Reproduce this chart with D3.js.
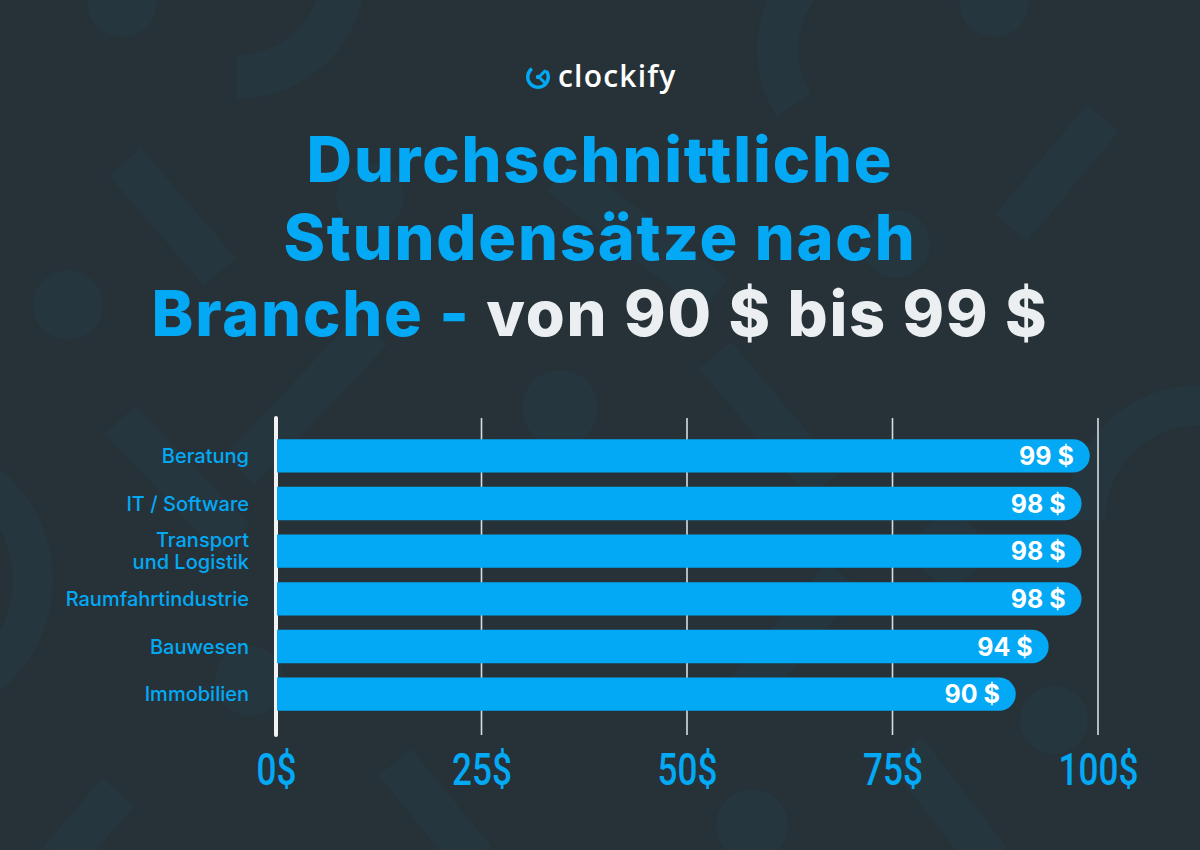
<!DOCTYPE html>
<html>
<head>
<meta charset="utf-8">
<script src="https://cdn.jsdelivr.net/npm/d3@7"></script>
<style>
  html, body { margin: 0; padding: 0; background: #273238; }
  svg { display: block; }
</style>
</head>
<body>
<svg id="chart"></svg>
<script>
// Data
const categories = ["Beratung", "IT / Software", "Transport\nund Logistik", "Raumfahrtindustrie", "Bauwesen", "Immobilien"];
const rates = [99, 98, 98, 98, 94, 90];
const tickValues = [0, 25, 50, 75, 100];
const titleLines = ["Durchschnittliche", "Stundensätze nach"];
const titleLast = ["Branche - ", "von 90 $ bis 99 $"];

const svgWidth = 1200, svgHeight = 850;
const blue = "#03a9f4";
const shapeFill = "#25363f";

const svg = d3.select("#chart")
    .attr("width", svgWidth)
    .attr("height", svgHeight);

svg.append("rect").attr("width", svgWidth).attr("height", svgHeight).attr("fill", "#273238");

// background decoration (circles, flat-ended bars, ring segments)
const deco = svg.append("g");
[[122, 2, 35], [994, 2, 35], [68, 305, 35], [370, 197, 34], [896, 244, 34], [560, 408, 38],
 [250, 681, 35], [1054, 720, 34], [752, 825, 36], [950, 550, 33]]
    .forEach(c => deco.append("circle").attr("cx", c[0]).attr("cy", c[1]).attr("r", c[2]).attr("fill", shapeFill));
[[125, 162, 220, 272], [1103, 118, 1011, 228], [372, 330, 240, 470], [120, 420, 235, 540],
 [715, 355, 825, 485], [843, 575, 740, 700], [60, 860, 118, 792], [395, 762, 475, 860],
 [905, 750, 990, 860], [560, 175, 715, 295]]
    .forEach(l => deco.append("line").attr("x1", l[0]).attr("y1", l[1]).attr("x2", l[2]).attr("y2", l[3])
        .attr("stroke", shapeFill).attr("stroke-width", 42).attr("stroke-linecap", "butt"));
const arc = d3.arc();
[[237, -30, 85, 129, 0.5, 1.0], [880, 50, 82, 123, 1.32, 1.9], [-90, 580, 103, 143, 0.2, 0.85], [1200, 520, 95, 135, 1.5, 2.0]]
    .forEach(a => deco.append("path").attr("transform", `translate(${a[0]},${a[1]})`)
        .attr("d", arc({innerRadius: a[2], outerRadius: a[3], startAngle: Math.PI * a[4], endAngle: Math.PI * a[5]}))
        .attr("fill", shapeFill));

// logo
const logo = svg.append("g").attr("transform", "translate(538,77)");
logo.append("path")
    .attr("d", d3.arc()({innerRadius: 8.6, outerRadius: 12, startAngle: Math.PI * 0.3, endAngle: Math.PI * 1.8}))
    .attr("fill", blue);
logo.append("path").attr("d", "M2.5,-1.5 L7,-6 M2.5,1.5 L7,6").attr("stroke", blue).attr("stroke-width", 3).attr("stroke-linecap", "round");
logo.append("circle").attr("cx", 0).attr("cy", 0).attr("r", 2.2).attr("fill", blue);
svg.append("text").attr("x", 558).attr("y", 87)
    .attr("font-family", "'Open Sans', sans-serif").attr("font-weight", 600).attr("font-size", 30)
    .attr("letter-spacing", 1.2)
    .attr("fill", "#ffffff").text("clockify");

// title
const titleFont = "Inter, 'Noto Sans', sans-serif";
titleLines.forEach((t, i) => {
    svg.append("text").attr("x", 600).attr("y", 182 + i * 78)
        .attr("text-anchor", "middle")
        .attr("font-family", titleFont).attr("font-weight", 800).attr("font-size", 63)
        .attr("letter-spacing", 1.8)
        .attr("fill", blue).text(t);
});
const last = svg.append("text").attr("x", 600).attr("y", 336)
    .attr("text-anchor", "middle")
    .attr("font-family", titleFont).attr("font-weight", 800).attr("font-size", 63)
    .attr("letter-spacing", 1.8)
    .attr("xml:space", "preserve");
last.append("tspan").attr("fill", blue).text(titleLast[0]);
last.append("tspan").attr("fill", "#eceff1").text(titleLast[1]);

// chart
const xScale = d3.scaleLinear().domain([0, 100]).range([276, 1098]);
const yScale = d3.scaleBand().domain(categories).range([432, 718]).paddingInner(0.3).paddingOuter(0.15);

// grid lines
svg.append("g").selectAll("line").data(tickValues).join("line")
    .attr("x1", d => xScale(d)).attr("x2", d => xScale(d))
    .attr("y1", 418).attr("y2", 735)
    .attr("stroke", d => d === 0 ? "#f2f2f2" : "#d8dcdf")
    .attr("stroke-width", d => d === 0 ? 4 : 1.6)
    .attr("stroke-linecap", d => d === 0 ? "round" : "butt");

// bars with rounded right end
const bh = yScale.bandwidth();
svg.append("g").selectAll("path").data(categories).join("path")
    .attr("d", (c, i) => {
        const x0 = xScale(0) + 1, x1 = xScale(rates[i]), y0 = yScale(c), r = bh / 2;
        return `M${x0},${y0} H${x1 - r} A${r},${r} 0 0 1 ${x1 - r},${y0 + bh} H${x0} Z`;
    })
    .attr("fill", blue);

// value labels
svg.append("g").selectAll("text").data(categories).join("text")
    .attr("x", (c, i) => xScale(rates[i]) - 16)
    .attr("y", c => yScale(c) + bh / 2 + 9)
    .attr("text-anchor", "end")
    .attr("font-family", titleFont).attr("font-weight", 700).attr("font-size", 25)
    .attr("fill", "#ffffff")
    .text((c, i) => `${rates[i]} $`);

// category labels
const catLabels = svg.append("g").selectAll("text").data(categories).join("text")
    .attr("text-anchor", "end")
    .attr("font-family", titleFont).attr("font-weight", 500).attr("font-size", 20)
    .attr("fill", blue);
catLabels.each(function(c) {
    const lines = c.split("\n");
    const cy = yScale(c) + bh / 2;
    lines.forEach((l, j) => {
        d3.select(this).append("tspan")
            .attr("x", 249)
            .attr("y", cy + 7 + (j - (lines.length - 1) / 2) * 22)
            .text(l);
    });
});

// x axis tick labels
const xAxis = svg.append("g")
    .attr("transform", "translate(0,785)")
    .call(d3.axisBottom(xScale).tickValues(tickValues).tickSize(0).tickFormat(d => d + "$"));
xAxis.select(".domain").remove();
xAxis.selectAll("text")
    .attr("y", 0).attr("dy", 0)
    .attr("fill", blue)
    .attr("font-family", "Roboto, sans-serif")
    .attr("font-weight", 500)
    .attr("font-size", 45)
    .attr("transform", "scale(0.78,1)");
</script>
</body>
</html>
